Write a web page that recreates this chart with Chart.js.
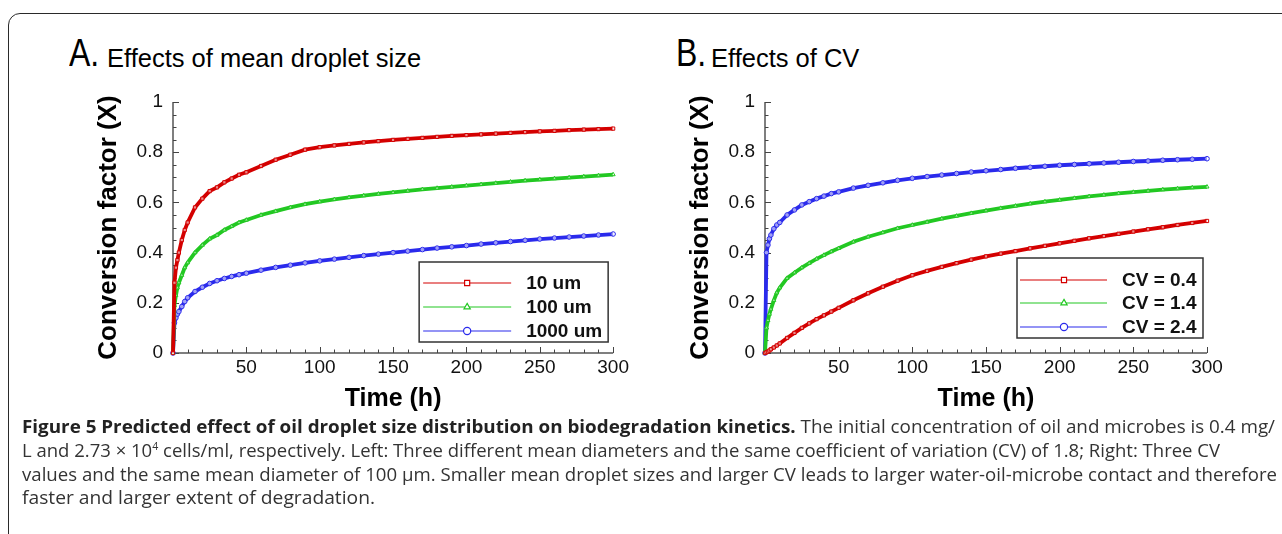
<!DOCTYPE html>
<html>
<head>
<meta charset="utf-8">
<script src="https://cdn.jsdelivr.net/npm/chart.js@4.4.1/dist/chart.umd.min.js"></script>
<style>
html,body{margin:0;padding:0;background:#fff;}
body{width:1282px;height:534px;overflow:hidden;position:relative;font-family:'Liberation Sans',Arial,sans-serif;}
#frame{position:absolute;left:8px;top:13px;width:1320px;height:580px;border:1.5px solid #2a2a2a;border-radius:12px;box-sizing:border-box;}
.big{position:absolute;font-size:39px;line-height:39px;color:#000;transform:scaleX(.82);transform-origin:left top;white-space:nowrap;}
.sub{position:absolute;font-size:25.5px;line-height:26px;color:#000;white-space:nowrap;}
canvas{position:absolute;}
.cap{position:absolute;left:22px;height:24px;line-height:24px;font-family:'Open Sans','Noto Sans',sans-serif;font-size:17.5px;color:#333;white-space:nowrap;transform-origin:left center;}
.cap b{color:#222;}
.cap sup{font-size:10px;line-height:0;vertical-align:7px;}
</style>
</head>
<body>
<div id="frame"></div>
<div class="big" style="left:69px;top:33px;">A.</div>
<div class="sub" style="left:107px;top:45px;">Effects of mean droplet size</div>
<div class="big" style="left:676px;top:33px;">B.</div>
<div class="sub" style="left:711px;top:45px;">Effects of CV</div>

<canvas id="chartA" width="592" height="345" style="left:40px;top:80px;"></canvas>
<canvas id="chartB" width="600" height="345" style="left:632px;top:80px;"></canvas>

<div class="cap" id="cap1" style="top:414px;"><b>Figure 5 Predicted effect of oil droplet size distribution on biodegradation kinetics.</b> The initial concentration of oil and microbes is 0.4 mg/</div>
<div class="cap" id="cap2" style="top:438px;">L and 2.73 × 10<sup>4</sup> cells/ml, respectively. Left: Three different mean diameters and the same coefficient of variation (CV) of 1.8; Right: Three CV</div>
<div class="cap" id="cap3" style="top:462px;">values and the same mean diameter of 100 μm. Smaller mean droplet sizes and larger CV leads to larger water-oil-microbe contact and therefore</div>
<div class="cap" id="cap4" style="top:485px;">faster and larger extent of degradation.</div>

<script>
// ---------------- data ----------------
const times = [0,1,2,3,4,6,8,10,15,20,25,30,35,40,45,50,60,70,80,90,100,110,120,130,140,150,160,170,180,190,200,210,220,230,240,250,260,270,280,290,300];

// Panel A: effects of mean droplet size
const labelsA = ['10 um', '100 um', '1000 um'];
const a10um   = [0,0.28,0.34,0.37,0.40,0.45,0.49,0.52,0.58,0.615,0.645,0.66,0.68,0.695,0.71,0.72,0.745,0.77,0.79,0.81,0.82,0.827,0.833,0.839,0.844,0.849,0.853,0.857,0.861,0.865,0.868,0.871,0.874,0.877,0.880,0.883,0.885,0.888,0.890,0.892,0.894];
const a100um  = [0,0.19,0.23,0.26,0.28,0.31,0.34,0.36,0.40,0.43,0.455,0.47,0.49,0.505,0.52,0.53,0.55,0.565,0.58,0.593,0.603,0.612,0.62,0.627,0.634,0.64,0.646,0.652,0.657,0.662,0.667,0.672,0.677,0.682,0.687,0.691,0.695,0.699,0.703,0.707,0.711];
const a1000um = [0,0.12,0.14,0.155,0.165,0.185,0.205,0.22,0.245,0.262,0.277,0.288,0.297,0.305,0.312,0.318,0.33,0.341,0.35,0.359,0.367,0.374,0.381,0.388,0.394,0.40,0.406,0.412,0.418,0.423,0.428,0.434,0.439,0.444,0.449,0.454,0.458,0.462,0.466,0.47,0.474];

// Panel B: effects of CV
const labelsB = ['CV = 0.4', 'CV = 1.4', 'CV = 2.4'];
const bCV04 = [0,0.003,0.006,0.01,0.015,0.022,0.03,0.038,0.06,0.08,0.10,0.118,0.135,0.15,0.165,0.18,0.21,0.238,0.264,0.288,0.31,0.327,0.343,0.358,0.372,0.385,0.396,0.406,0.417,0.427,0.437,0.447,0.457,0.466,0.475,0.484,0.493,0.501,0.51,0.518,0.526];
const bCV14 = [0,0.10,0.13,0.155,0.175,0.21,0.24,0.26,0.298,0.32,0.34,0.358,0.375,0.39,0.404,0.417,0.443,0.463,0.48,0.497,0.51,0.522,0.535,0.546,0.557,0.567,0.577,0.586,0.595,0.603,0.61,0.617,0.624,0.63,0.636,0.641,0.646,0.651,0.655,0.659,0.662];
const bCV24 = [0,0.40,0.43,0.455,0.47,0.495,0.51,0.52,0.55,0.57,0.59,0.603,0.615,0.625,0.635,0.642,0.657,0.668,0.678,0.688,0.696,0.703,0.709,0.715,0.721,0.726,0.731,0.736,0.74,0.744,0.748,0.751,0.754,0.757,0.76,0.763,0.765,0.768,0.77,0.772,0.774];

// Axes
const xTickValues = [0,50,100,150,200,250,300];
const xTickLabels = ['','50','100','150','200','250','300'];
const yTickValues = [0,0.2,0.4,0.6,0.8,1];
const yTickLabels = ['0','0.2','0.4','0.6','0.8','1'];
const xTitle = 'Time (h)';
const yTitle = 'Conversion factor (X)';

// ---------------- styling ----------------
const RED = '#d40000', GREEN = '#22c822', BLUE = '#2a2aec';
const FONT = "'Liberation Sans', Arial, Helvetica, sans-serif";
Chart.defaults.font.family = FONT;

const pairs = (ys) => ys.map((v, i) => ({x: times[i], y: v}));

function series(label, ys, color, style) {
  return {
    label, data: pairs(ys),
    borderColor: color, backgroundColor: color,
    borderWidth: 3.8,
    pointStyle: style, pointRadius: 2.3, pointBorderWidth: 1,
    pointBorderColor: color, pointBackgroundColor: 'rgba(255,255,255,0.55)',
    tension: 0, clip: false
  };
}

const axisDeco = {
  id: 'axisDeco',
  beforeDatasetsDraw(chart) {
    const {ctx, chartArea: a, scales: {x, y}} = chart;
    ctx.save();
    ctx.strokeStyle = '#555';
    ctx.lineWidth = 1.5;
    ctx.beginPath();
    ctx.moveTo(a.left, a.top); ctx.lineTo(a.left, a.bottom); ctx.lineTo(a.right, a.bottom);
    ctx.stroke();
    ctx.lineWidth = 1;
    ctx.strokeStyle = '#444';
    ctx.beginPath();
    for (let k = 0; k <= 30; k++) {
      const px = Math.round(x.getPixelForValue(k * 10)) + 0.5;
      const len = k % 5 === 0 ? 6 : 3.5;
      ctx.moveTo(px, a.bottom); ctx.lineTo(px, a.bottom - len);
    }
    for (let k = 0; k <= 20; k++) {
      const py = Math.round(y.getPixelForValue(k * 0.05)) + 0.5;
      const len = k % 4 === 0 ? 6 : 3.5;
      ctx.moveTo(a.left, py); ctx.lineTo(a.left + len, py);
    }
    ctx.stroke();
    ctx.restore();
  }
};

const boxLegend = {
  id: 'boxLegend',
  afterDraw(chart, args, o) {
    const {ctx, chartArea: a} = chart;
    const L = a.right - o.dxLeft, R = a.right - o.dxRight, T = a.bottom - o.dyTop, B = a.bottom - o.dyBottom;
    ctx.save();
    ctx.fillStyle = '#fff';
    ctx.fillRect(L, T, R - L, B - T);
    ctx.strokeStyle = '#333';
    ctx.lineWidth = 1.5;
    ctx.strokeRect(L, T, R - L, B - T);
    chart.data.datasets.forEach((ds, i) => {
      const yy = a.bottom - o.rows[i];
      ctx.strokeStyle = ds.borderColor;
      ctx.lineWidth = 1.2;
      ctx.beginPath(); ctx.moveTo(L + o.line0, yy); ctx.lineTo(L + o.line1, yy); ctx.stroke();
      ctx.fillStyle = '#fff';
      Chart.helpers.drawPoint(ctx, {pointStyle: ds.pointStyle, radius: 3.6, borderWidth: 1.2, rotation: 0}, L + o.mark, yy);
      ctx.fillStyle = '#111';
      ctx.font = "bold 19px " + FONT;
      ctx.textBaseline = 'middle';
      ctx.textAlign = 'left';
      ctx.fillText(ds.label, L + o.text, yy + 1);
    });
    ctx.restore();
  }
};

function makeChart(id, labels, ys, padRight, legendOpts) {
  const colors = [RED, GREEN, BLUE];
  const styles = ['rect', 'triangle', 'circle'];
  return new Chart(document.getElementById(id), {
    type: 'line',
    data: { datasets: ys.map((d, i) => series(labels[i], d, colors[i], styles[i])) },
    options: {
      responsive: false,
      animation: false,
      devicePixelRatio: 1,
      layout: { padding: { top: 22, right: padRight, left: 0, bottom: 0 } },
      plugins: { legend: { display: false }, tooltip: { enabled: false }, boxLegend: legendOpts },
      scales: {
        x: {
          type: 'linear', min: 0, max: 300,
          afterBuildTicks: s => { s.ticks = xTickValues.map(v => ({value: v})); },
          afterFit: s => { s.height = 72; },
          grid: { display: false, drawTicks: false },
          border: { display: false },
          ticks: { padding: 3, color: '#111', font: { size: 19 }, maxRotation: 0, autoSkip: false,
                   callback: (v, i) => xTickLabels[i] },
          title: { display: true, text: xTitle, color: '#000', font: { size: 25, weight: 'bold' }, padding: { top: 0, bottom: 11 } }
        },
        y: {
          type: 'linear', min: 0, max: 1,
          afterBuildTicks: s => { s.ticks = yTickValues.map(v => ({value: v})); },
          afterFit: s => { s.width = 133; },
          grid: { display: false, drawTicks: false },
          border: { display: false },
          ticks: { padding: 10, color: '#111', font: { size: 19 }, autoSkip: false,
                   callback: (v, i) => yTickLabels[i] },
          title: { display: true, text: yTitle, color: '#000', font: { size: 26, weight: 'bold' }, padding: { top: 53, bottom: 0 } }
        }
      }
    },
    plugins: [axisDeco, boxLegend]
  });
}

makeChart('chartA', labelsA, [a10um, a100um, a1000um], 18,
  { dxLeft: 194, dxRight: 5, dyTop: 91, dyBottom: 11, rows: [70, 46, 22], line0: 4, line1: 92, mark: 48, text: 107 });
makeChart('chartB', labelsB, [bCV04, bCV14, bCV24], 25,
  { dxLeft: 190, dxRight: 4, dyTop: 95, dyBottom: 15, rows: [73, 50, 26], line0: 3, line1: 90, mark: 47, text: 105 });

// fit caption lines to the widths in the reference
const capTargets = { cap1: 1253, cap2: 1198, cap3: 1255, cap4: 353 };
Object.keys(capTargets).forEach(id => {
  const el = document.getElementById(id);
  const w = el.getBoundingClientRect().width;
  el.style.transform = 'scaleX(' + (capTargets[id] / w).toFixed(4) + ')';
});
</script>
</body>
</html>
